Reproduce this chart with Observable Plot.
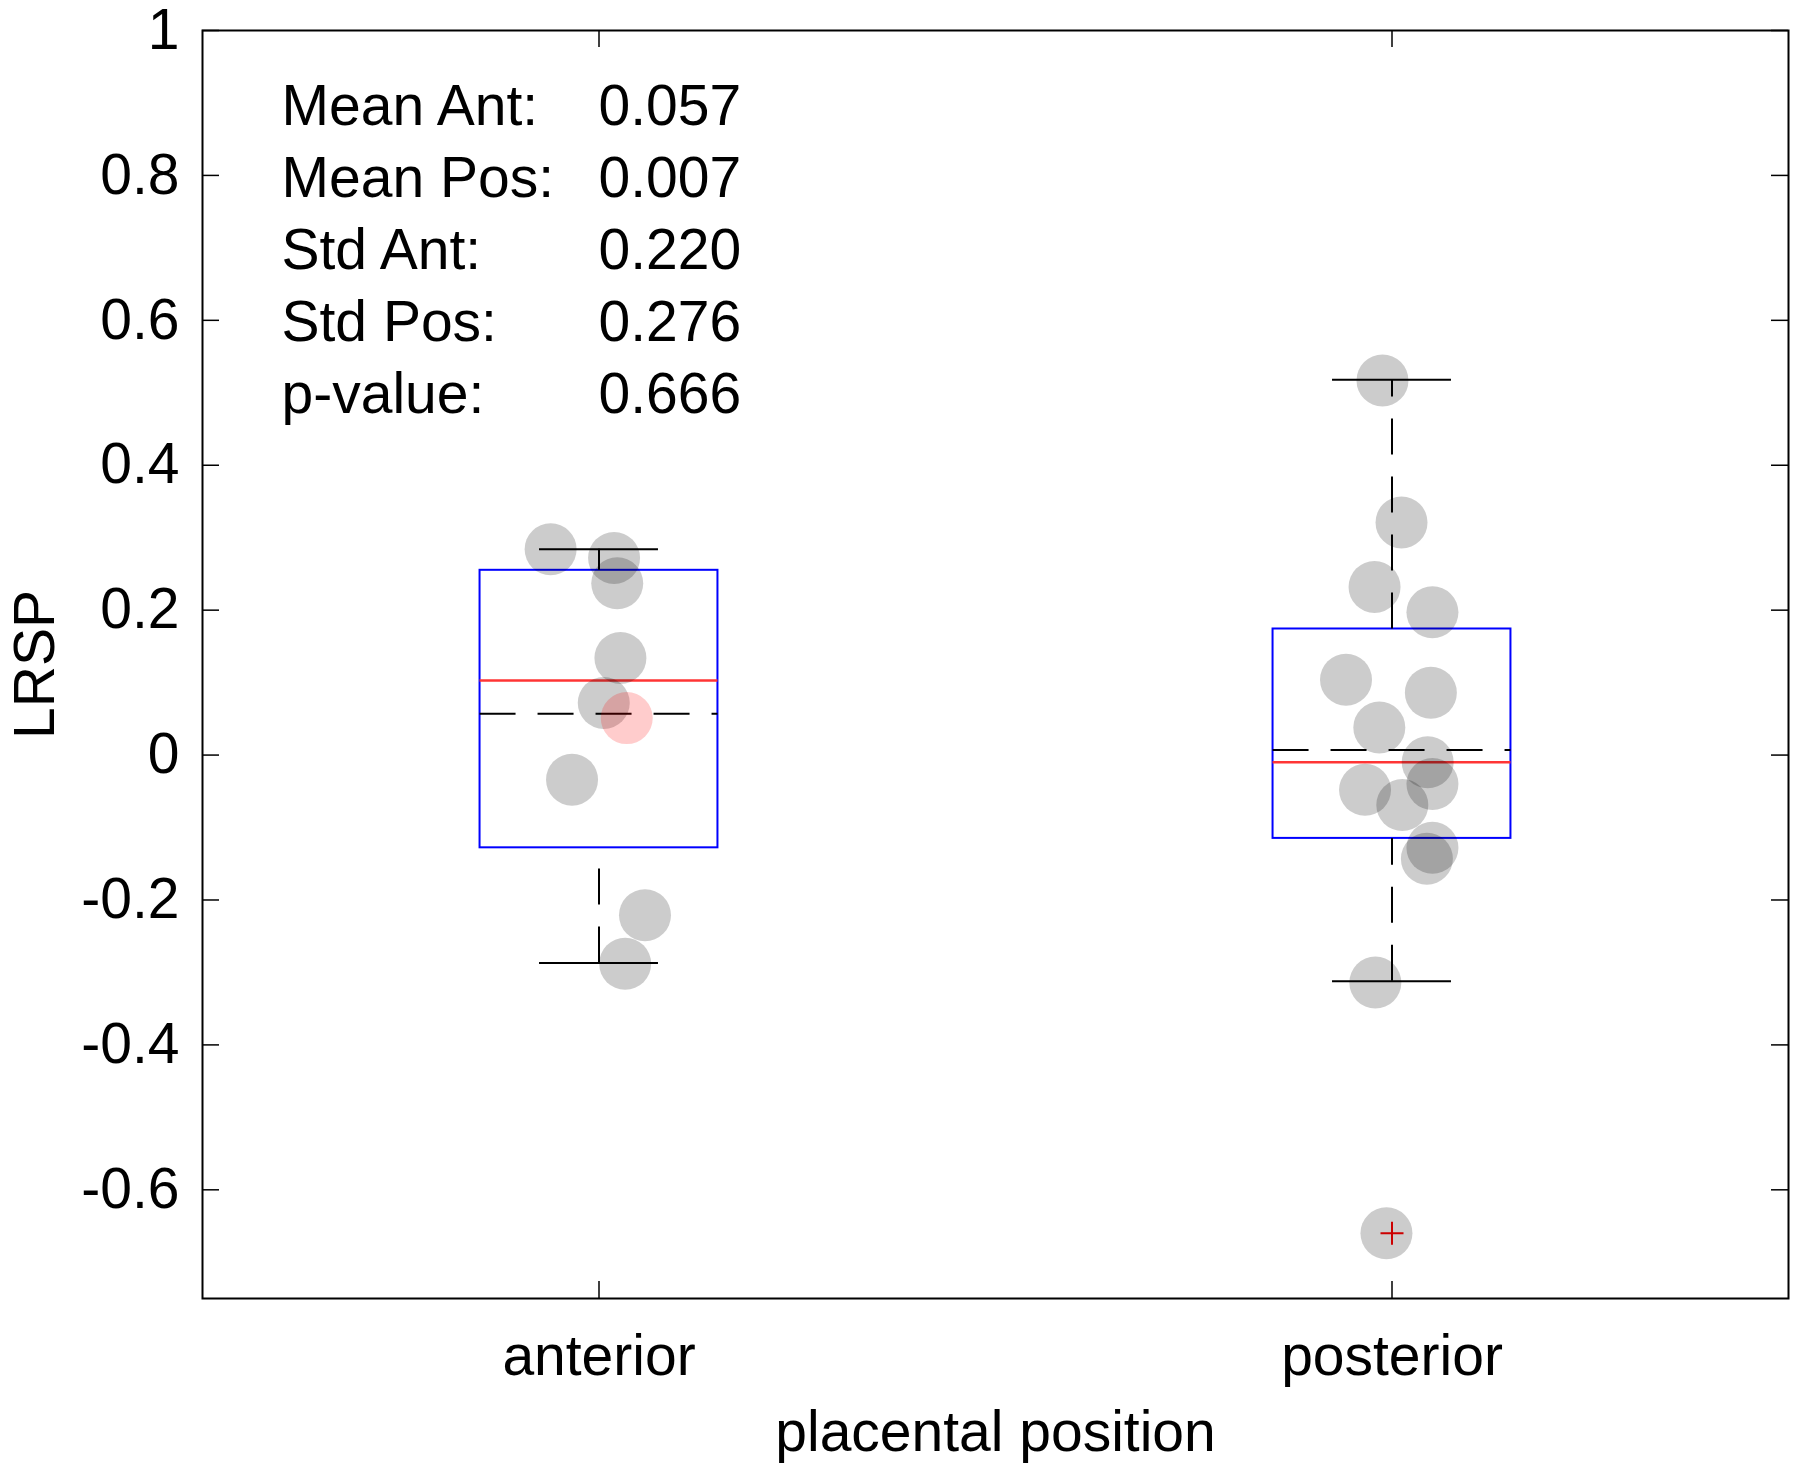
<!DOCTYPE html>
<html>
<head>
<meta charset="utf-8">
<script src="https://cdn.jsdelivr.net/npm/d3@7"></script>
<script src="https://cdn.jsdelivr.net/npm/@observablehq/plot@0.6"></script>
<style>
  body { margin: 0; background: #fff; }
  svg { display: block; overflow: visible; }
</style>
</head>
<body>
<div id="chart"></div>
<script>
// ---------------- data ----------------
const categories = ["anterior", "posterior"];
const xTicks = [1, 2];
const yTicks = [-0.6, -0.4, -0.2, 0, 0.2, 0.4, 0.6, 0.8, 1];
const yTickLabels = ["-0.6", "-0.4", "-0.2", "0", "0.2", "0.4", "0.6", "0.8", "1"];

// individual observations (value, horizontal jitter)
const antValues  = [0.284, 0.272, 0.237, 0.134, 0.072, -0.034, -0.221, -0.288];
const antOffsets = [-0.061, 0.019, 0.023, 0.027, 0.006, -0.034, 0.058, 0.033];
const highlightValues  = [0.051];   // pink point in the anterior group
const highlightOffsets = [0.035];
const posValues  = [0.517, 0.321, 0.232, 0.197, 0.104, 0.086, 0.038, -0.010, -0.040, -0.048, -0.069, -0.128, -0.143, -0.314, -0.660];
const posOffsets = [-0.012, 0.012, -0.022, 0.051, -0.058, 0.049, -0.016, 0.045, 0.051, -0.034, 0.013, 0.051, 0.044, -0.021, -0.007];

// box-plot statistics per category
const q1          = [-0.128, -0.115];
const medians     = [0.103, -0.010];
const q3          = [0.255, 0.174];
const whiskerLow  = [-0.287, -0.312];
const whiskerHigh = [0.284, 0.518];
const means       = [0.057, 0.007];
const outlierValues = [-0.660];
const outlierGroups = [2];

// annotation
const statLabels = ["Mean Ant:", "Mean Pos:", "Std Ant:", "Std Pos:", "p-value:"];
const statValues = ["0.057", "0.007", "0.220", "0.276", "0.666"];

const xLabel = "placental position";
const yLabel = "LRSP";

// ---------------- layout / style ----------------
const W = 1800, H = 1470;
const mL = 202, mR = 12, mT = 30, mB = 172;
const frameW = W - mL - mR, frameH = H - mT - mB;
const tickLen = 17;
const boxHalf = 0.15, capHalf = 0.075;
const FONT = "'Liberation Sans', Arial, Helvetica, sans-serif";
const FS = 57;

const boxes = categories.map((c, i) => ({
  pos: xTicks[i], q1: q1[i], med: medians[i], q3: q3[i],
  lo: whiskerLow[i], hi: whiskerHigh[i], mean: means[i]
}));
const points = [
  ...antValues.map((v, i) => ({x: xTicks[0] + antOffsets[i], y: v})),
  ...posValues.map((v, i) => ({x: xTicks[1] + posOffsets[i], y: v}))
];
const highlight = highlightValues.map((v, i) => ({x: xTicks[0] + highlightOffsets[i], y: v}));
const outliers = outlierValues.map((v, i) => ({x: outlierGroups[i], y: v}));

const plusSymbol = {
  draw(ctx, size) {
    const r = Math.sqrt(size / Math.PI);
    ctx.moveTo(-r, 0); ctx.lineTo(r, 0);
    ctx.moveTo(0, -r); ctx.lineTo(0, r);
  }
};
const DASH = "36,22";

const chart = Plot.plot({
  width: W, height: H,
  marginLeft: mL, marginRight: mR, marginTop: mT, marginBottom: mB,
  x: {domain: [0.5, 2.5]},
  y: {domain: [-0.75, 1]},
  style: {fontFamily: FONT, fontSize: FS + "px", color: "black", background: "white"},
  marks: [
    // box
    Plot.rect(boxes, {x1: d => d.pos - boxHalf, x2: d => d.pos + boxHalf, y1: "q1", y2: "q3",
      fill: "none", stroke: "#0000ff", strokeWidth: 2}),
    // median
    Plot.ruleY(boxes, {y: "med", x1: d => d.pos - boxHalf, x2: d => d.pos + boxHalf,
      stroke: "#ff3535", strokeWidth: 2.5}),
    // mean (dashed)
    Plot.ruleY(boxes, {y: "mean", x1: d => d.pos - boxHalf, x2: d => d.pos + boxHalf,
      stroke: "black", strokeWidth: 2, strokeDasharray: DASH}),
    // whiskers
    Plot.ruleX(boxes, {x: "pos", y1: "q3", y2: "hi", stroke: "black", strokeWidth: 2, strokeDasharray: DASH}),
    Plot.ruleX(boxes, {x: "pos", y1: "lo", y2: "q1", stroke: "black", strokeWidth: 2, strokeDasharray: DASH}),
    // whisker caps
    Plot.ruleY(boxes, {y: "hi", x1: d => d.pos - capHalf, x2: d => d.pos + capHalf, stroke: "black", strokeWidth: 2}),
    Plot.ruleY(boxes, {y: "lo", x1: d => d.pos - capHalf, x2: d => d.pos + capHalf, stroke: "black", strokeWidth: 2}),
    // outlier
    Plot.dot(outliers, {x: "x", y: "y", symbol: plusSymbol, r: 11.5, fill: "none", stroke: "#ff0000", strokeWidth: 2}),
    // data points
    Plot.dot(points, {x: "x", y: "y", r: 26, fill: "black", fillOpacity: 0.2, stroke: "none"}),
    Plot.dot(highlight, {x: "x", y: "y", r: 26, fill: "red", fillOpacity: 0.2, stroke: "none"}),
    // inward tick marks
    Plot.tickY(yTicks, {y: d => d, insetRight: frameW - tickLen, stroke: "black", strokeWidth: 1.5}),
    Plot.tickY(yTicks, {y: d => d, insetLeft: frameW - tickLen, stroke: "black", strokeWidth: 1.5}),
    Plot.tickX(xTicks, {x: d => d, insetTop: frameH - tickLen, stroke: "black", strokeWidth: 1.5}),
    Plot.tickX(xTicks, {x: d => d, insetBottom: frameH - tickLen, stroke: "black", strokeWidth: 1.5}),
    Plot.frame({stroke: "black", strokeWidth: 2}),
    // axes (labels only)
    Plot.axisY(yTicks, {tickSize: 0, tickPadding: 23, tickFormat: d => yTickLabels[yTicks.indexOf(d)],
      fontSize: FS, label: null}),
    Plot.axisX(xTicks, {tickSize: 0, tickPadding: 36, tickFormat: d => categories[xTicks.indexOf(d)],
      fontSize: FS, label: null}),
    // axis titles
    Plot.text([xLabel], {text: d => d, frameAnchor: "bottom", lineAnchor: "bottom", textAnchor: "middle",
      dy: 152, fontSize: FS}),
    Plot.text([yLabel], {text: d => d, frameAnchor: "left", rotate: -90, lineAnchor: "bottom", textAnchor: "middle",
      dx: -149, fontSize: FS}),
    // statistics annotation
    ...statLabels.map((t, i) => Plot.text([t], {text: d => d, frameAnchor: "top-left", textAnchor: "start",
      lineAnchor: "bottom", dx: 79, dy: 94 + 72 * i, fontSize: FS})),
    ...statValues.map((t, i) => Plot.text([t], {text: d => d, frameAnchor: "top-left", textAnchor: "start",
      lineAnchor: "bottom", dx: 396, dy: 94 + 72 * i, fontSize: FS}))
  ]
});
document.getElementById("chart").appendChild(chart);
</script>
</body>
</html>
